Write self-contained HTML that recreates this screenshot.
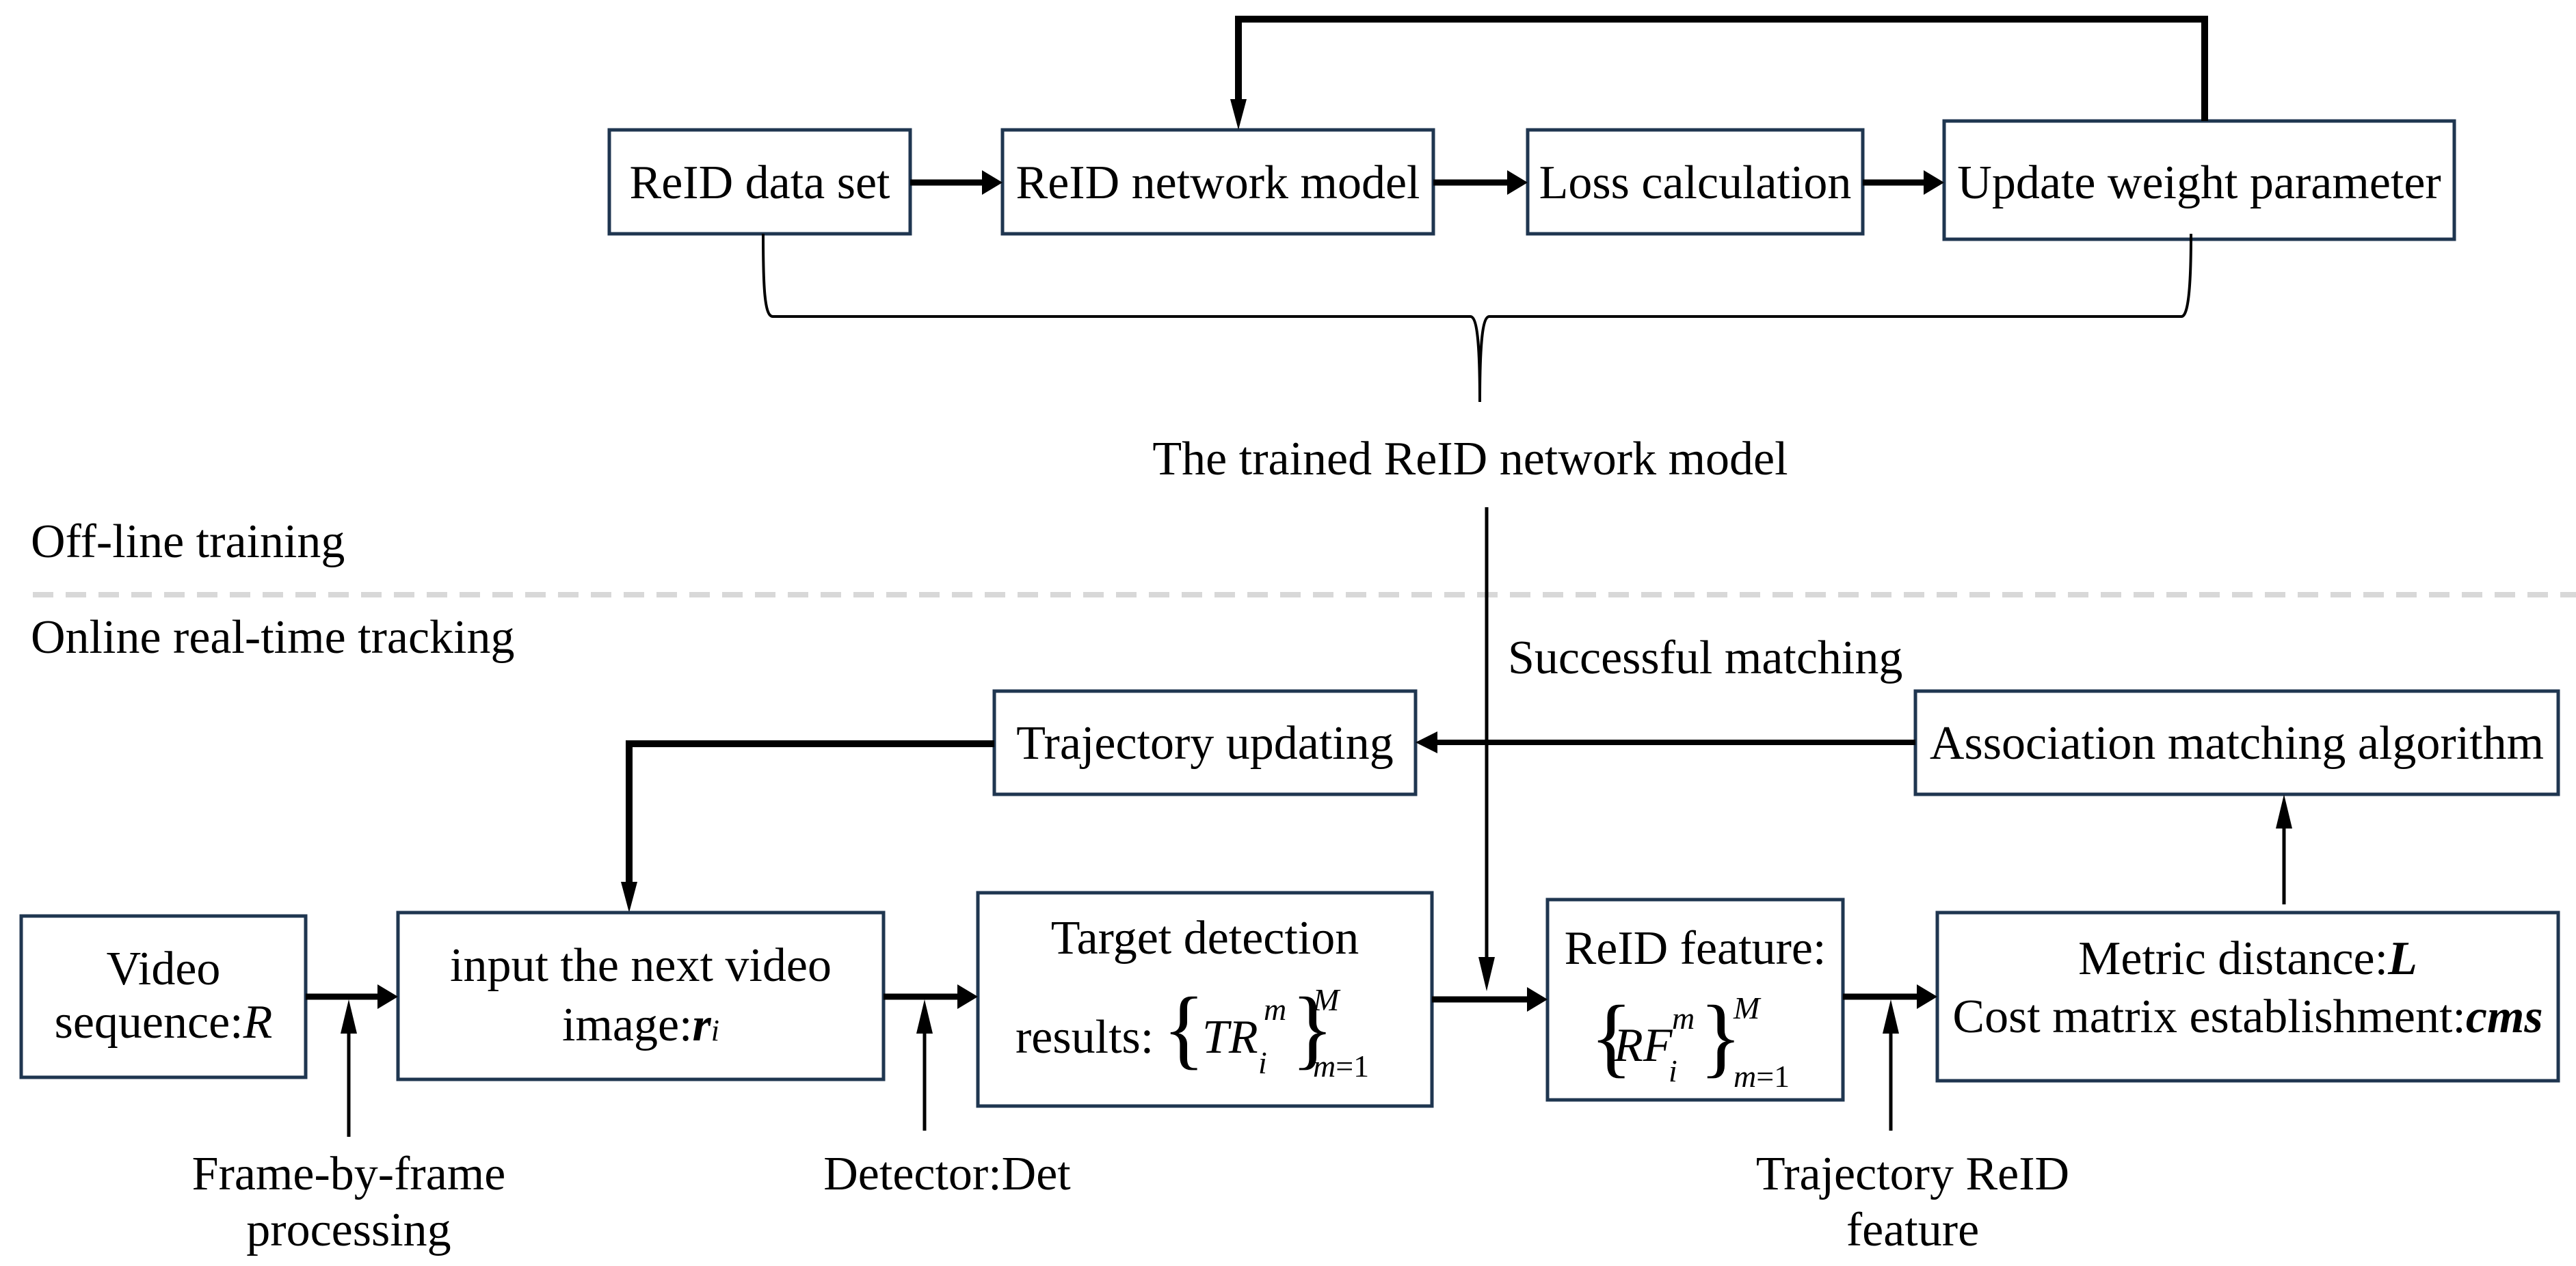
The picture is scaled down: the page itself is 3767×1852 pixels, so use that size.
<!DOCTYPE html>
<html><head><meta charset="utf-8"><style>
html,body{margin:0;padding:0;background:#fff;}
svg{display:block;}
text{font-family:"Liberation Serif",serif;fill:#000;}
.b{fill:#fff;stroke:#1f3650;stroke-width:5;}
</style></head><body>
<svg width="3767" height="1852" viewBox="0 0 3767 1852" xmlns="http://www.w3.org/2000/svg" font-size="70">
<!-- top boxes -->
<rect class="b" x="891" y="190" width="440" height="152"/>
<rect class="b" x="1466" y="190" width="630" height="152"/>
<rect class="b" x="2234" y="190" width="490" height="152"/>
<rect class="b" x="2843" y="177" width="746" height="173"/>
<text x="1111" y="290" text-anchor="middle">ReID data set</text>
<text x="1781" y="290" text-anchor="middle">ReID network model</text>
<text x="2479" y="290" text-anchor="middle">Loss calculation</text>
<text x="3216" y="290" text-anchor="middle">Update weight parameter</text>
<g stroke="#000" stroke-width="9" fill="none">
<line x1="1331" y1="267" x2="1440" y2="267"/>
<line x1="2096" y1="267" x2="2208" y2="267"/>
<line x1="2724" y1="267" x2="2817" y2="267"/>
</g>
<g fill="#000">
<path d="M1466,267 l-30,-18 v36z"/><path d="M2234,267 l-30,-18 v36z"/><path d="M2843,267 l-30,-18 v36z"/>
</g>
<!-- feedback -->
<path d="M3224,177 V28 H1811 V160" stroke="#000" stroke-width="10" fill="none"/>
<path d="M1811,190 l-12,-45 h24z" fill="#000"/>
<!-- brace -->
<path d="M1116,342 C1116,420 1118,463 1130,463 H2150 C2160,463 2164,500 2164,588 C2164,500 2168,463 2178,463 H3190 C3200,463 3204,420 3204,342" stroke="#000" stroke-width="4" fill="none"/>
<text x="2150" y="694" text-anchor="middle">The trained ReID network model</text>
<text x="45" y="815">Off-line training</text>
<line x1="48" y1="870" x2="3767" y2="870" stroke="#d8d8d8" stroke-width="8" stroke-dasharray="30,18"/>
<text x="45" y="955">Online real-time tracking</text>
<text x="2205" y="985">Successful matching</text>
<!-- vertical from trained model -->
<line x1="2174" y1="742" x2="2174" y2="1405" stroke="#000" stroke-width="5"/>
<path d="M2174,1450 l-12,-50 h24z" fill="#000"/>
<!-- middle boxes -->
<rect class="b" x="1454" y="1011" width="616" height="151"/>
<rect class="b" x="2801" y="1011" width="940" height="151"/>
<text x="1762" y="1110" text-anchor="middle">Trajectory updating</text>
<text x="3271" y="1110" text-anchor="middle">Association matching algorithm</text>
<line x1="2801" y1="1086" x2="2100" y2="1086" stroke="#000" stroke-width="8"/>
<path d="M2070,1086 l32,-16 v32z" fill="#000"/>
<path d="M1454,1088 H920 V1295" stroke="#000" stroke-width="10" fill="none"/>
<path d="M920,1335 l-12,-45 h24z" fill="#000"/>
<!-- bottom boxes -->
<rect class="b" x="31" y="1340" width="416" height="236"/>
<rect class="b" x="582" y="1335" width="710" height="244"/>
<rect class="b" x="1430" y="1306" width="664" height="312"/>
<rect class="b" x="2263" y="1316" width="432" height="293"/>
<rect class="b" x="2833" y="1335" width="908" height="246"/>
<text x="239" y="1440" text-anchor="middle">Video</text>
<text x="239" y="1518" text-anchor="middle">sequence:<tspan font-style="italic">R</tspan></text>
<text x="937" y="1435" text-anchor="middle">input the next video</text>
<text x="937" y="1522" text-anchor="middle">image:<tspan font-weight="bold" font-style="italic">r</tspan><tspan style="font-size:44px" font-style="italic">i</tspan></text>
<text x="1762" y="1395" text-anchor="middle">Target detection</text>
<text x="1485" y="1540">results:</text>
<text x="1700" y="1548" style="font-size:130px">{</text>
<text x="1758" y="1540" font-style="italic">TR</text>
<text x="1848" y="1492" font-style="italic" style="font-size:46px">m</text>
<text x="1840" y="1570" font-style="italic" style="font-size:46px">i</text>
<text x="1888" y="1548" style="font-size:130px">}</text>
<text x="1920" y="1478" font-style="italic" style="font-size:46px">M</text>
<text x="1920" y="1575" style="font-size:46px"><tspan font-style="italic">m</tspan>=1</text>
<text x="2479" y="1410" text-anchor="middle">ReID feature:</text>
<text x="2325" y="1560" style="font-size:130px">{</text>
<text x="2360" y="1552" font-style="italic">RF</text>
<text x="2445" y="1505" font-style="italic" style="font-size:46px">m</text>
<text x="2440" y="1582" font-style="italic" style="font-size:46px">i</text>
<text x="2485" y="1560" style="font-size:130px">}</text>
<text x="2535" y="1490" font-style="italic" style="font-size:46px">M</text>
<text x="2535" y="1590" style="font-size:46px"><tspan font-style="italic">m</tspan>=1</text>
<text x="3287" y="1425" text-anchor="middle">Metric distance:<tspan font-weight="bold" font-style="italic">L</tspan></text>
<text x="3287" y="1510" text-anchor="middle">Cost matrix establishment:<tspan font-weight="bold" font-style="italic">cms</tspan></text>
<!-- horizontal arrows -->
<g stroke="#000" stroke-width="9">
<line x1="447" y1="1458" x2="555" y2="1458"/>
<line x1="1292" y1="1458" x2="1402" y2="1458"/>
<line x1="2094" y1="1462" x2="2235" y2="1462"/>
<line x1="2695" y1="1458" x2="2805" y2="1458"/>
</g>
<g fill="#000">
<path d="M582,1458 l-30,-18 v36z"/><path d="M1430,1458 l-30,-18 v36z"/><path d="M2263,1462 l-30,-18 v36z"/><path d="M2833,1458 l-30,-18 v36z"/>
</g>
<!-- up arrows -->
<g stroke="#000" stroke-width="5">
<line x1="510" y1="1663" x2="510" y2="1500"/>
<line x1="1352" y1="1654" x2="1352" y2="1500"/>
<line x1="2765" y1="1654" x2="2765" y2="1500"/>
<line x1="3340" y1="1323" x2="3340" y2="1200"/>
</g>
<g fill="#000">
<path d="M510,1462 l-12,50 h24z"/><path d="M1352,1462 l-12,50 h24z"/><path d="M2765,1462 l-12,50 h24z"/><path d="M3340,1162 l-12,50 h24z"/>
</g>
<text x="510" y="1740" text-anchor="middle">Frame-by-frame</text>
<text x="510" y="1822" text-anchor="middle">processing</text>
<text x="1385" y="1740" text-anchor="middle">Detector:Det</text>
<text x="2797" y="1740" text-anchor="middle">Trajectory ReID</text>
<text x="2797" y="1822" text-anchor="middle">feature</text>
</svg>
</body></html>
